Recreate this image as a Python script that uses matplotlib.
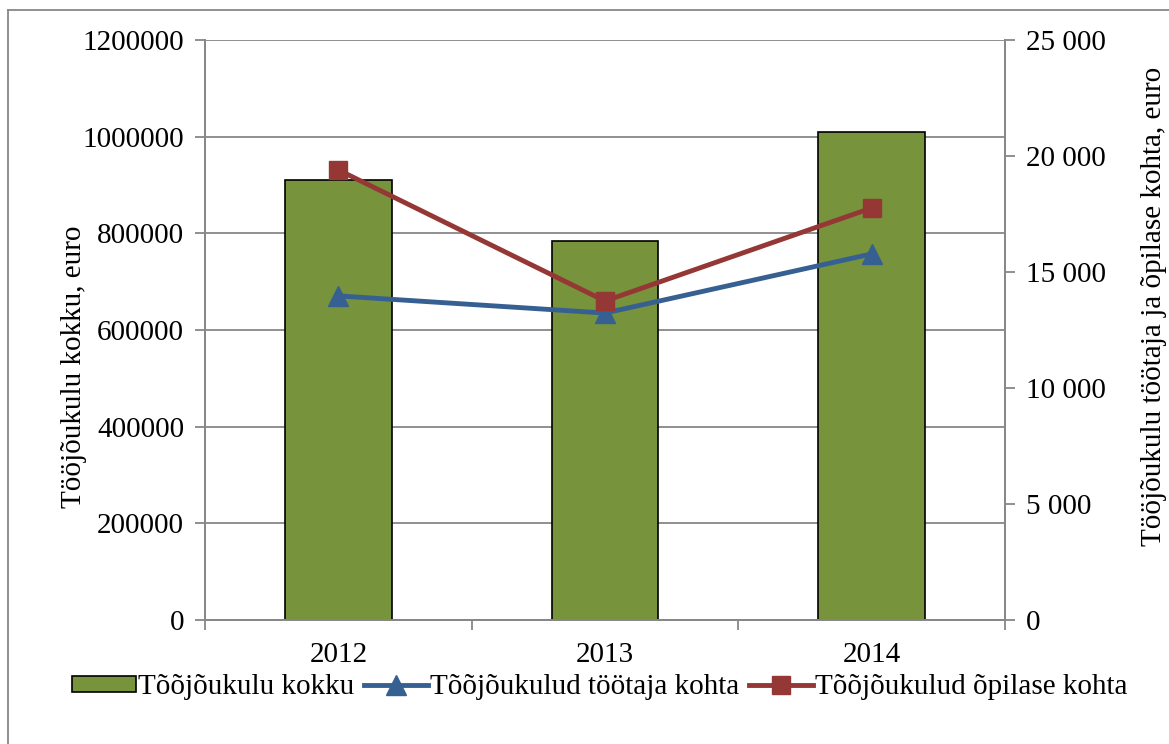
import matplotlib
matplotlib.use('Agg')
import matplotlib.pyplot as plt
from matplotlib.lines import Line2D
from matplotlib.ticker import FuncFormatter, FixedLocator

plt.rcParams['font.family'] = ['Liberation Serif', 'DejaVu Serif']

years = ['2012', '2013', '2014']
kokku = [910000, 784000, 1010000]
tootaja_kohta = [13970, 13230, 15780]
opilase_kohta = [19400, 13750, 17760]

GREEN = '#77933C'
BLUE = '#376092'
RED = '#953735'
GRAY = '#878787'
FS = 21

fig = plt.figure(figsize=(11.69, 7.44), dpi=100)
ax1 = fig.add_axes([205 / 1169, 1 - 620 / 744, 800 / 1169, 580 / 744])
ax2 = ax1.twinx()

x = list(range(len(years)))
bars = ax1.bar(x, kokku, width=0.4, color=GREEN, edgecolor='black', linewidth=1.2,
               label='Tõõjõukulu kokku', zorder=2)
ax1.set_xlim(-0.5, 2.5)
ax1.set_ylim(0, 1200000)
ax1.set_yticks(range(0, 1200001, 200000))
ax1.yaxis.set_major_formatter(FuncFormatter(lambda v, p: f'{int(v)}'))
ax1.yaxis.grid(True, color=GRAY, linewidth=1.3)
ax1.set_axisbelow(True)

l1, = ax2.plot(x, tootaja_kohta, color=BLUE, lw=3.5, marker='^', markersize=14,
               label='Tõõjõukulud töötaja kohta')
l2, = ax2.plot(x, opilase_kohta, color=RED, lw=3.5, marker='s', markersize=13,
               label='Tõõjõukulud õpilase kohta')
ax2.set_ylim(0, 25000)
ax2.set_yticks(range(0, 25001, 5000))
ax2.yaxis.set_major_formatter(FuncFormatter(lambda v, p: f'{int(v):,}'.replace(',', ' ')))

ax1.set_xticks(x)
ax1.set_xticklabels(years)
ax1.xaxis.set_minor_locator(FixedLocator([-0.5, 0.5, 1.5, 2.5]))
ax1.tick_params(axis='x', which='major', length=0, pad=16, labelsize=FS)
ax1.tick_params(axis='x', which='minor', length=7, width=1.3, color=GRAY, direction='out')
ax1.tick_params(axis='y', length=7, width=1.3, color=GRAY, direction='out', labelsize=FS, pad=8)
ax2.tick_params(axis='y', length=7, width=1.3, color=GRAY, direction='out', labelsize=FS, pad=8)

for ax in (ax1, ax2):
    ax.spines['top'].set_visible(False)
    for s in ('left', 'right', 'bottom'):
        ax.spines[s].set_color(GRAY)
        ax.spines[s].set_linewidth(1.3)

ax1.set_ylabel('Tööjõukulu kokku, euro', fontsize=FS, labelpad=-3)
ax1.yaxis.label.set_y(0.436)
ax2.set_ylabel('Tööjõukulu töötaja ja õpilase kohta, euro', fontsize=FS, labelpad=25)
ax2.yaxis.label.set_y(0.54)

fig.legend(handles=[bars, l1, l2], loc='center', bbox_to_anchor=(0.513, 0.076), ncol=3,
           frameon=False, fontsize=FS, handlelength=2.2, handleheight=0.5,
           handletextpad=0.05, columnspacing=0.35, borderaxespad=0)

# outer chart frame (only top and left are inside the picture)
fig.add_artist(Line2D([8 / 1169, 8 / 1169], [0, 1 - 10 / 744], color=GRAY, lw=1.3))
fig.add_artist(Line2D([8 / 1169, 1], [1 - 10 / 744, 1 - 10 / 744], color=GRAY, lw=1.3))

fig.savefig('out.png', dpi=100)
